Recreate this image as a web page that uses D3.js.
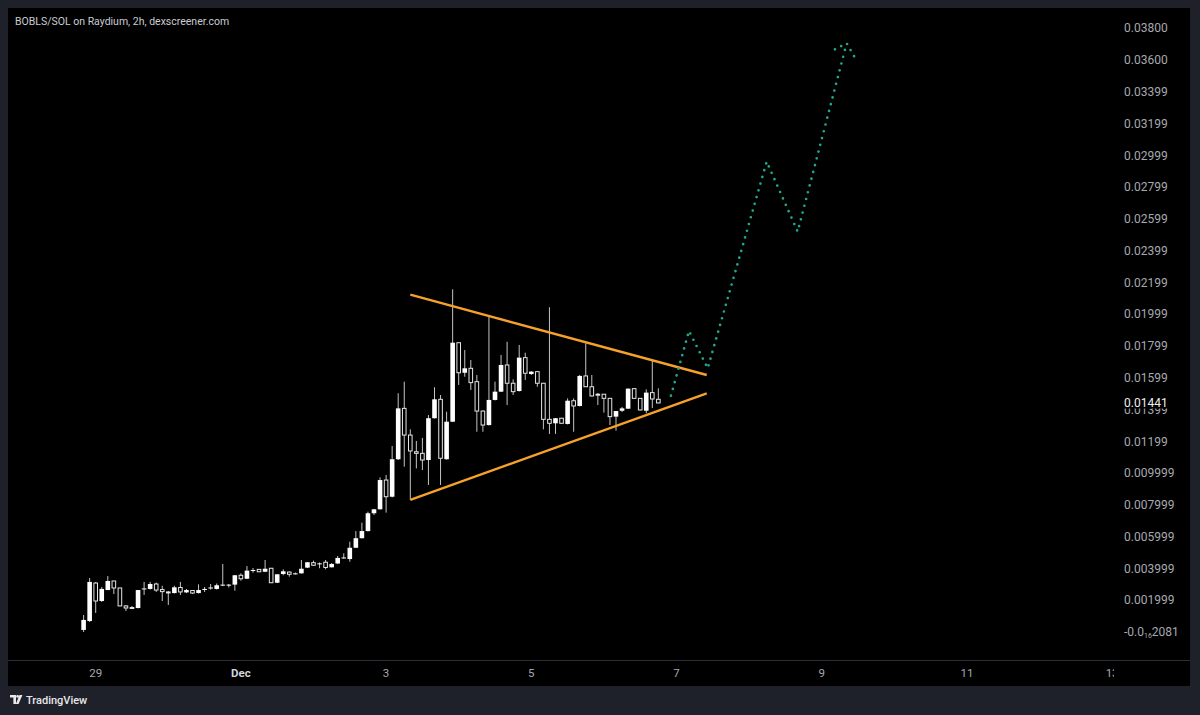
<!DOCTYPE html>
<html lang="en">
<head>
<meta charset="UTF-8">
<title>BOBLS/SOL</title>
<script src="https://d3js.org/d3.v7.min.js"></script>
<style>
  html, body { margin: 0; padding: 0; background: #1e2129; }
  svg { display: block; font-family: Roboto, "Noto Sans", sans-serif; }
</style>
</head>
<body>
<svg id="chart" width="1200" height="715"></svg>
<script>
// 2h candles, first one opens Nov 28 20:00
const candleStart = Date.UTC(2024, 10, 28, 20);
const candleStep = 2 * 3600 * 1000;

const opens = [
  0.00013, 0.00069, 0.00308, 0.00195, 0.00264, 0.00321, 0.00277, 0.00164, 0.00154, 0.00151,
  0.00271, 0.00271, 0.00302, 0.00267, 0.00252, 0.00245, 0.00280, 0.00249, 0.00261, 0.00245,
  0.00267, 0.00277, 0.00271, 0.00296, 0.00296, 0.00298, 0.00357, 0.00335, 0.00387, 0.00394,
  0.00379, 0.00401, 0.00310, 0.00365, 0.00377, 0.00368, 0.00369, 0.00405, 0.00436, 0.00431,
  0.00439, 0.00407, 0.00431, 0.00467, 0.00459, 0.00530, 0.00590, 0.00635, 0.00747, 0.00772,
  0.00956, 0.00851, 0.01087, 0.01407, 0.01239, 0.01134, 0.01124, 0.01082, 0.01345, 0.01464,
  0.01087, 0.01323, 0.01820, 0.01631, 0.01659, 0.01575, 0.01390, 0.01302, 0.01460, 0.01512,
  0.01680, 0.01565, 0.01516, 0.01726, 0.01623, 0.01638, 0.01565, 0.01338, 0.01313, 0.01345,
  0.01309, 0.01455, 0.01422, 0.01611, 0.01543, 0.01496, 0.01496, 0.01470, 0.01355, 0.01392,
  0.01405, 0.01531, 0.01470, 0.01392, 0.01506, 0.01464
];
const highs = [
  0.00107, 0.00340, 0.00315, 0.00283, 0.00352, 0.00321, 0.00277, 0.00170, 0.00164, 0.00264,
  0.00315, 0.00315, 0.00311, 0.00291, 0.00258, 0.00291, 0.00315, 0.00271, 0.00264, 0.00300,
  0.00283, 0.00302, 0.00305, 0.00428, 0.00302, 0.00359, 0.00369, 0.00415, 0.00403, 0.00396,
  0.00453, 0.00403, 0.00365, 0.00394, 0.00381, 0.00374, 0.00453, 0.00440, 0.00449, 0.00437,
  0.00453, 0.00434, 0.00478, 0.00495, 0.00568, 0.00635, 0.00688, 0.00757, 0.00774, 0.00973,
  0.00988, 0.01170, 0.01502, 0.01575, 0.01275, 0.01202, 0.01221, 0.01365, 0.01540, 0.01491,
  0.01386, 0.02156, 0.01822, 0.01774, 0.01711, 0.01617, 0.01394, 0.01988, 0.01575, 0.01743,
  0.01826, 0.01590, 0.01806, 0.01757, 0.01642, 0.01639, 0.01567, 0.02043, 0.01346, 0.01346,
  0.01470, 0.01470, 0.01617, 0.01816, 0.01617, 0.01504, 0.01497, 0.01472, 0.01390, 0.01416,
  0.01532, 0.01532, 0.01472, 0.01527, 0.01711, 0.01533
];
const lows = [
  0.00000, 0.00063, 0.00120, 0.00189, 0.00264, 0.00239, 0.00164, 0.00132, 0.00145, 0.00148,
  0.00233, 0.00267, 0.00252, 0.00195, 0.00170, 0.00242, 0.00233, 0.00245, 0.00239, 0.00242,
  0.00252, 0.00267, 0.00267, 0.00289, 0.00280, 0.00260, 0.00323, 0.00333, 0.00373, 0.00377,
  0.00377, 0.00308, 0.00308, 0.00357, 0.00348, 0.00362, 0.00368, 0.00403, 0.00415, 0.00401,
  0.00394, 0.00406, 0.00428, 0.00462, 0.00442, 0.00528, 0.00589, 0.00632, 0.00736, 0.00771,
  0.00751, 0.00847, 0.01082, 0.01040, 0.00831, 0.01029, 0.01019, 0.00925, 0.01343, 0.00925,
  0.01085, 0.01321, 0.01554, 0.01606, 0.01523, 0.01260, 0.01260, 0.01299, 0.01457, 0.01510,
  0.01428, 0.01491, 0.01513, 0.01586, 0.01617, 0.01543, 0.01275, 0.01246, 0.01246, 0.01312,
  0.01306, 0.01260, 0.01419, 0.01541, 0.01482, 0.01428, 0.01380, 0.01302, 0.01267, 0.01384,
  0.01403, 0.01469, 0.01394, 0.01376, 0.01409, 0.01440
];
const closes = [
  0.00076, 0.00315, 0.00195, 0.00271, 0.00321, 0.00277, 0.00164, 0.00151, 0.00151, 0.00264,
  0.00274, 0.00302, 0.00264, 0.00254, 0.00250, 0.00281, 0.00252, 0.00264, 0.00245, 0.00264,
  0.00271, 0.00280, 0.00294, 0.00298, 0.00298, 0.00357, 0.00335, 0.00386, 0.00390, 0.00379,
  0.00398, 0.00310, 0.00363, 0.00382, 0.00363, 0.00369, 0.00398, 0.00439, 0.00420, 0.00432,
  0.00406, 0.00428, 0.00466, 0.00469, 0.00530, 0.00590, 0.00635, 0.00747, 0.00772, 0.00956,
  0.00851, 0.01087, 0.01407, 0.01239, 0.01139, 0.01124, 0.01082, 0.01345, 0.01464, 0.01093,
  0.01323, 0.01820, 0.01631, 0.01659, 0.01569, 0.01390, 0.01302, 0.01460, 0.01512, 0.01680,
  0.01565, 0.01512, 0.01726, 0.01628, 0.01638, 0.01565, 0.01338, 0.01313, 0.01345, 0.01313,
  0.01455, 0.01422, 0.01611, 0.01543, 0.01485, 0.01494, 0.01470, 0.01355, 0.01390, 0.01407,
  0.01531, 0.01470, 0.01397, 0.01506, 0.01466, 0.01441
];

// triangle trend lines
const trendTimes = [Date.UTC(2024, 11, 3, 8), Date.UTC(2024, 11, 7, 10)];
const upperLine = [0.02122, 0.01617];
const lowerLine = [0.00831, 0.01502];

// dotted projection
const pathTimes = [
  Date.UTC(2024, 11, 6, 22, 10), Date.UTC(2024, 11, 7, 4, 8), Date.UTC(2024, 11, 7, 10, 19),
  Date.UTC(2024, 11, 8, 5, 49), Date.UTC(2024, 11, 8, 16, 3), Date.UTC(2024, 11, 9, 8, 15)
];
const pathPrices = [0.01487, 0.01894, 0.01659, 0.02959, 0.02519, 0.03704];
const arrowTimes = [Date.UTC(2024, 11, 9, 4, 23), Date.UTC(2024, 11, 9, 8, 15), Date.UTC(2024, 11, 9, 10, 47)];
const arrowPrices = [0.03666, 0.03704, 0.03620];

// axes
const priceTicks = [0.038, 0.036, 0.03399, 0.03199, 0.02999, 0.02799, 0.02599, 0.02399, 0.02199, 0.01999,
  0.01799, 0.01599, 0.01399, 0.01199, 0.009999, 0.007999, 0.005999, 0.003999, 0.001999];
const priceLabels = ["0.03800", "0.03600", "0.03399", "0.03199", "0.02999", "0.02799", "0.02599", "0.02399",
  "0.02199", "0.01999", "0.01799", "0.01599", "0.01399", "0.01199", "0.009999", "0.007999", "0.005999",
  "0.003999", "0.001999"];
const timeTicks = [Date.UTC(2024, 10, 29), Date.UTC(2024, 11, 1), Date.UTC(2024, 11, 3), Date.UTC(2024, 11, 5),
  Date.UTC(2024, 11, 7), Date.UTC(2024, 11, 9), Date.UTC(2024, 11, 11), Date.UTC(2024, 11, 13)];
const timeLabels = ["29", "Dec", "3", "5", "7", "9", "11", "13"];
const lastPrice = 0.01441;

const svg = d3.select('#chart');

const x = d3.scaleUtc()
  .domain([new Date(Date.UTC(2024, 10, 29)), new Date(Date.UTC(2024, 11, 13))])
  .range([95.7, 1112.1]);
const y = d3.scaleLinear().domain([0, 0.038]).range([632, 28]);

// panels
svg.append('rect').attr('width', 1200).attr('height', 715).attr('fill', '#1e2129');
svg.append('rect').attr('x', 8).attr('y', 8).attr('width', 1182).attr('height', 678).attr('fill', '#000');
svg.append('line').attr('x1', 8).attr('x2', 1190).attr('y1', 660.5).attr('y2', 660.5)
  .attr('stroke', '#2a2e37').attr('stroke-width', 1);

svg.append('clipPath').attr('id', 'plot').append('rect')
  .attr('x', 8).attr('y', 8).attr('width', 1106).attr('height', 652);

const plot = svg.append('g').attr('clip-path', 'url(#plot)');

// candles
const candles = opens.map((o, i) => ({
  t: new Date(candleStart + i * candleStep), o, h: highs[i], l: lows[i], c: closes[i]
}));
const bodyW = 4.6;

const cg = plot.append('g').selectAll('g').data(candles).join('g')
  .attr('transform', d => `translate(${x(d.t)},0)`);

cg.append('line')
  .attr('y1', d => y(d.h)).attr('y2', d => y(d.l))
  .attr('stroke', '#c4c4c4').attr('stroke-width', 1);

cg.append('rect')
  .attr('x', d => d.c >= d.o ? -bodyW / 2 : -bodyW / 2 + 0.5)
  .attr('width', d => d.c >= d.o ? bodyW : bodyW - 1)
  .attr('y', d => y(Math.max(d.o, d.c)))
  .attr('height', d => Math.max(1, Math.abs(y(d.o) - y(d.c))))
  .attr('fill', d => d.c >= d.o ? '#ffffff' : '#000000')
  .attr('stroke', d => d.c >= d.o ? 'none' : '#e6e6e6')
  .attr('stroke-width', 1);

// triangle
const line = d3.line().x(d => x(new Date(d[0]))).y(d => y(d[1]));
[upperLine, lowerLine].forEach(p => {
  plot.append('path')
    .attr('d', line(trendTimes.map((t, i) => [t, p[i]])))
    .attr('fill', 'none').attr('stroke', '#f6a12a').attr('stroke-width', 2.4);
});

// dotted projection
const dotted = (times, prices) => plot.append('path')
  .attr('d', line(times.map((t, i) => [t, prices[i]])))
  .attr('fill', 'none').attr('stroke', '#20a88c').attr('stroke-width', 2.7)
  .attr('stroke-linecap', 'round').attr('stroke-dasharray', '0 7');
dotted(pathTimes, pathPrices);
dotted(arrowTimes, arrowPrices);

// title
svg.append('text').attr('x', 15).attr('y', 25)
  .attr('fill', '#c9ccd2').attr('font-size', 10.5)
  .text('BOBLS/SOL on Raydium, 2h, dexscreener.com');

// price axis
const pa = svg.append('g');
svg.append('clipPath').attr('id', 'under').append('rect')
  .attr('x', 1116).attr('y', y(lastPrice) + 5.5).attr('width', 74).attr('height', 20);
pa.selectAll('text.tick').data(priceTicks).join('text')
  .attr('class', 'tick')
  .attr('x', 1124).attr('y', d => y(d)).attr('dy', '0.35em')
  .attr('clip-path', d => d === 0.01399 ? 'url(#under)' : null)
  .attr('fill', '#a6a9b0').attr('font-size', 12)
  .text((d, i) => priceLabels[i]);
const zero = pa.append('text').attr('x', 1124).attr('y', y(0)).attr('dy', '0.35em')
  .attr('fill', '#a6a9b0').attr('font-size', 12);
zero.append('tspan').text('-0.0');
zero.append('tspan').attr('font-size', 7).attr('dy', 2).text('16');
zero.append('tspan').attr('dy', -2).text('2081');

pa.append('text').attr('x', 1124).attr('y', y(lastPrice)).attr('dy', '0.35em')
  .attr('fill', '#f0f0f0').attr('font-size', 12).text(d3.format('.5f')(lastPrice));

// time axis
svg.append('clipPath').attr('id', 'taxis').append('rect')
  .attr('x', 8).attr('y', 661).attr('width', 1106).attr('height', 25);
svg.append('g').attr('clip-path', 'url(#taxis)')
  .selectAll('text').data(timeTicks).join('text')
  .attr('x', d => x(new Date(d))).attr('y', 673).attr('dy', '0.35em')
  .attr('text-anchor', 'middle').attr('font-size', 11.5)
  .attr('font-weight', (d, i) => timeLabels[i] === 'Dec' ? 'bold' : 'normal')
  .attr('fill', (d, i) => timeLabels[i] === 'Dec' ? '#d1d4dc' : '#a6a9b0')
  .text((d, i) => timeLabels[i]);

// TradingView mark
const logo = svg.append('g').attr('transform', 'translate(10,695)').attr('fill', '#e8e8ea');
logo.append('path').attr('d', 'M0 0 H6 V9 H3.4 V2.6 H0 Z');
logo.append('circle').attr('cx', 7.6).attr('cy', 1.4).attr('r', 1.4);
logo.append('path').attr('d', 'M9.5 0 H12.4 L8.6 9 H5.8 Z');
svg.append('text').attr('x', 26).attr('y', 704)
  .attr('fill', '#e8e8ea').attr('font-size', 11).attr('font-weight', 500)
  .text('TradingView');
</script>
</body>
</html>
